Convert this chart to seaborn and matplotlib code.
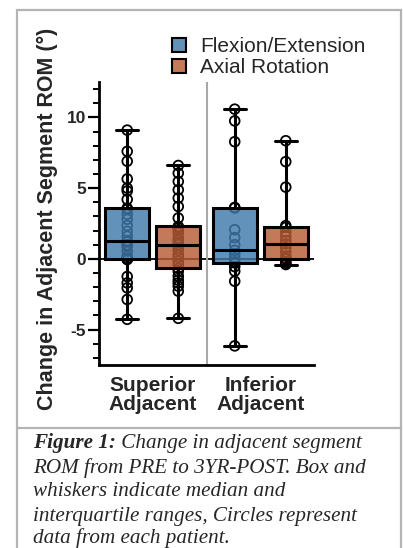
import numpy as np
import pandas as pd
import matplotlib
matplotlib.use("Agg")
import matplotlib.pyplot as plt
import seaborn as sns
from matplotlib.patches import Patch, Rectangle
from matplotlib.lines import Line2D

# ---- data ----
levels = ["Superior\nAdjacent", "Inferior\nAdjacent"]
motions = ["Flexion/Extension", "Axial Rotation"]
colors = ["#4079aa", "#b75c35"]

sup_fe = [-4.27, -2.87, -2.05, -1.7, -1.25, -0.05, 0.0, 0.0, 0.05, 0.2, 0.55, 0.9, 1.0, 1.2,
          1.29, 1.6, 1.95, 2.35, 2.8, 3.15, 3.5, 3.58, 4.2, 4.8, 5.0, 5.65, 6.9, 7.6, 9.1]
sup_ar = [-4.2, -2.28, -1.93, -1.7, -1.5, -1.22, -0.87, -0.68, -0.4, -0.17, 0.1, 0.3, 0.6, 0.8,
          1.0, 1.13, 1.3, 1.48, 1.83, 2.05, 2.2, 2.3, 2.89, 3.7, 4.3, 4.88, 5.47, 6.06, 6.6]
inf_fe = [-6.15, -1.58, -0.87, -0.55, -0.28, -0.2, 0.07, 0.35, 0.6, 1.0, 1.5, 2.06, 3.6, 3.64,
          8.28, 9.75, 10.58]
inf_ar = [-0.4, -0.3, -0.2, 0.0, 0.02, 0.2, 0.5, 0.8, 1.06, 1.3, 1.6, 1.9, 2.23, 2.35,
          5.07, 6.87, 8.35]

yticks = [-5, 0, 5, 10]
ylabel = "Change in Adjacent Segment ROM (°)"
caption_head = "Figure 1:"
caption_lines = [" Change in adjacent segment",
                 "ROM from PRE to 3YR-POST. Box and",
                 "whiskers indicate median and",
                 "interquartile ranges, Circles represent",
                 "data from each patient."]

rows = []
for lvl, fe, ar in [(levels[0], sup_fe, sup_ar), (levels[1], inf_fe, inf_ar)]:
    rows += [(lvl, motions[0], v) for v in fe]
    rows += [(lvl, motions[1], v) for v in ar]
df = pd.DataFrame(rows, columns=["level", "motion", "value"])

# ---- style ----
sns.set_theme(style="ticks")
plt.rcParams["font.family"] = ["Liberation Sans", "DejaVu Sans"]
plt.rcParams["axes.unicode_minus"] = False

W, H = 403, 548
fig = plt.figure(figsize=(W / 100, H / 100), dpi=100)
ax = fig.add_axes([99 / W, 1 - 365 / H, 215 / W, 283 / H])

ax.axhline(0, color="black", lw=1.3, zorder=0.5)
ax.axvline(0.5, color="#a8a8a8", lw=1.5, zorder=0.5)

pal = dict(zip(motions, colors))
BOXW = 0.95

n0 = len(ax.collections)
sns.stripplot(data=df, x="level", y="value", hue="motion", order=levels, hue_order=motions,
              dodge=True, jitter=False, size=7, linewidth=1.3, edgecolor="black",
              palette=pal, legend=False, ax=ax, zorder=1)
for c in ax.collections[n0:]:
    off = c.get_offsets()
    cen = np.round(off[:, 0])
    off[:, 0] = cen + (off[:, 0] - cen) * BOXW / 0.8
    c.set_offsets(off)
    c.set_facecolor("none")
    c.set_edgecolor("black")

np0 = len(ax.patches)
sns.boxplot(data=df, x="level", y="value", hue="motion", order=levels, hue_order=motions,
            whis=(0, 100), width=BOXW, gap=0.14, linewidth=2.2, linecolor="black",
            fliersize=0, saturation=1, palette=pal, legend=False, ax=ax, zorder=2)
for p in ax.patches[np0:]:
    fc = p.get_facecolor()
    p.set_facecolor((fc[0], fc[1], fc[2], 0.82))

ax.set_xlim(-0.5, 1.5)
ax.set_ylim(-7.5, 12.5)
ax.set_yticks(yticks)
ax.set_yticks(np.arange(-7, 13, 1), minor=True)
ax.set_xlabel("")
ax.set_ylabel(ylabel, fontsize=15.5, fontweight="bold", va="center")
ax.yaxis.set_label_coords(-0.238, 0.515)
for s in ["top", "right"]:
    ax.spines[s].set_visible(False)
for s in ["left", "bottom"]:
    ax.spines[s].set_linewidth(2)
    ax.spines[s].set_color("black")
ax.tick_params(axis="y", which="major", length=8, width=1.6, pad=1.5,
               labelsize=12.5, color="black")
ax.tick_params(axis="y", which="minor", length=4, width=1.4, color="black")
ax.tick_params(axis="x", length=0, pad=8, labelsize=15)
for t in ax.get_yticklabels():
    t.set_fontweight("bold")
for t in ax.get_xticklabels():
    t.set_fontweight("bold")
    t.set_linespacing(1.0)

handles = [Patch(facecolor=(*matplotlib.colors.to_rgb(c), 0.82), edgecolor="black", lw=1.5)
           for c in colors]
fig.legend(handles, motions, loc="upper left", bbox_to_anchor=(172 / W, 1 - 37 / H),
           frameon=False, fontsize=15, handlelength=0.65, handleheight=0.65,
           handletextpad=0.7, labelspacing=0.1, borderpad=0, borderaxespad=0)

# border and caption box
fig.add_artist(Rectangle((17 / W, -0.05), (401 - 17) / W, 1 - 10 / H + 0.05,
                         transform=fig.transFigure, fill=False, edgecolor="#b4b4b4", lw=1.6))
fig.add_artist(Line2D([17 / W, 401 / W], [1 - 428 / H, 1 - 428 / H],
                      transform=fig.transFigure, color="#b4b4b4", lw=1.6))

cap_kw = dict(family=["Liberation Serif", "DejaVu Serif"], fontsize=15.2, style="italic",
              va="baseline", ha="left")
baselines = [448, 472.5, 496.5, 520.5, 543]
t1 = fig.text(33 / W, 1 - baselines[0] / H, caption_head, fontweight="bold", **cap_kw)
fig.canvas.draw()
bb = t1.get_window_extent(fig.canvas.get_renderer())
fig.text(bb.x1 / W, 1 - baselines[0] / H, caption_lines[0], **cap_kw)
for line, yb in zip(caption_lines[1:], baselines[1:]):
    fig.text(33 / W, 1 - yb / H, line, **cap_kw)

fig.savefig("out.png", dpi=100)
